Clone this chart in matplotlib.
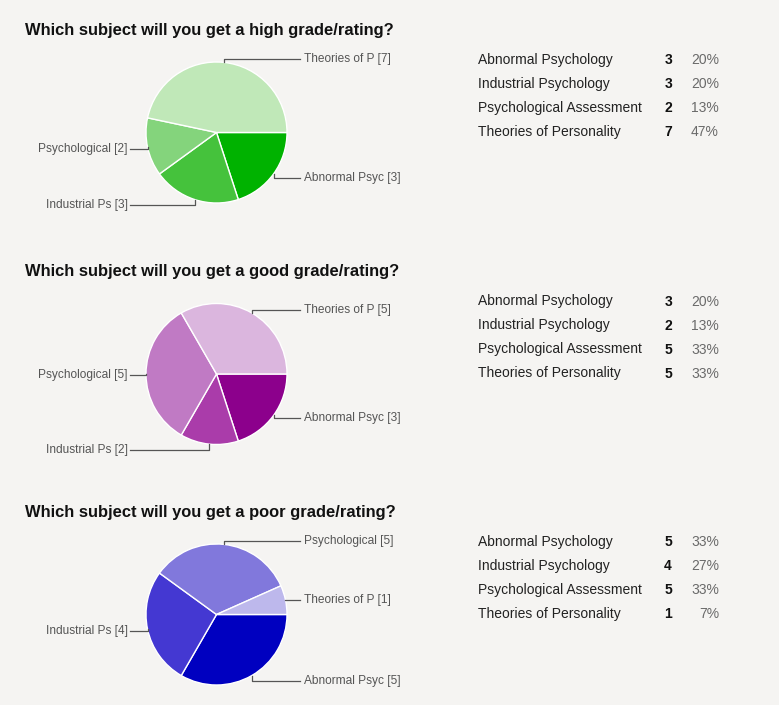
import numpy as np
import matplotlib
matplotlib.use("Agg")
import matplotlib.pyplot as plt

plt.rcParams['font.family'] = ['Liberation Sans', 'DejaVu Sans']

# Data
subjects = ["Abnormal Psychology", "Industrial Psychology",
            "Psychological Assessment", "Theories of Personality"]
short_labels = ["Abnormal Psyc", "Industrial Ps", "Psychological", "Theories of P"]
titles = ["Which subject will you get a high grade/rating?",
          "Which subject will you get a good grade/rating?",
          "Which subject will you get a poor grade/rating?"]
high_counts = [3, 3, 2, 7]
good_counts = [3, 2, 5, 5]
poor_counts = [5, 4, 5, 1]
all_counts = [high_counts, good_counts, poor_counts]

green = ["#00b200", "#45c23c", "#84d47c", "#c0e8b8"]
purple = ["#8c008c", "#aa3caa", "#c07ac4", "#dbb6de"]
blue = ["#0000c0", "#4438d2", "#8178dc", "#bdb8ec"]
palettes = [green, purple, blue]

# layout (pixels, from top)
W, H = 779, 705
centers_y = [132.5, 374, 614.5]
center_x = 216.5
radius = 70.5
# label y positions for each slice (Abnormal, Industrial, Psych, Theories)
label_ys = [[178, 205, 149, 59],
            [418, 450, 375, 310],
            [681, 631, 541, 600]]


def Y(y):
    return H - y


fig = plt.figure(figsize=(W / 100, H / 100), dpi=100, facecolor="#f5f4f2")
ax = fig.add_axes([0, 0, 1, 1])
ax.set_xlim(0, W)
ax.set_ylim(0, H)
ax.set_aspect("equal")
ax.axis("off")

for k in range(3):
    counts = all_counts[k]
    cy = centers_y[k]
    # title
    ax.text(25, Y(cy - 98), titles[k], fontsize=11.9, fontweight="bold",
            color="#111111", ha="left", va="baseline")

    wedges, _ = ax.pie(counts, colors=palettes[k], startangle=0, counterclock=False,
                       center=(center_x, Y(cy)), radius=radius,
                       wedgeprops=dict(edgecolor="white", linewidth=1.0))
    ax.set_xlim(0, W)
    ax.set_ylim(0, H)

    for i, w in enumerate(wedges):
        mid = np.deg2rad((w.theta1 + w.theta2) / 2)
        x0 = center_x + radius * np.cos(mid)
        y0 = Y(cy) + radius * np.sin(mid)
        ly = Y(label_ys[k][i])
        txt = "%s [%d]" % (short_labels[i], counts[i])
        if np.cos(mid) > 0:
            ax.plot([x0, x0, 300], [y0, ly, ly], color="#555555", lw=0.9)
            ax.text(304, ly, txt, fontsize=8.6, color="#555555", ha="left", va="center")
        else:
            ax.plot([x0, x0, 130], [y0, ly, ly], color="#555555", lw=0.9)
            ax.text(128, ly, txt, fontsize=8.6, color="#555555", ha="right", va="center")

    # summary table
    total = sum(counts)
    for i in range(4):
        ry = Y(cy - 73.5 + 24 * i + 5)
        ax.text(478, ry, subjects[i], fontsize=10, color="#222222", ha="left", va="baseline")
        ax.text(672, ry, str(counts[i]), fontsize=10, fontweight="bold", color="#111111",
                ha="right", va="baseline")
        ax.text(719, ry, "%d%%" % round(100 * counts[i] / total), fontsize=10,
                color="#6a6a6a", ha="right", va="baseline")

fig.savefig("out.png", dpi=100, facecolor=fig.get_facecolor())
